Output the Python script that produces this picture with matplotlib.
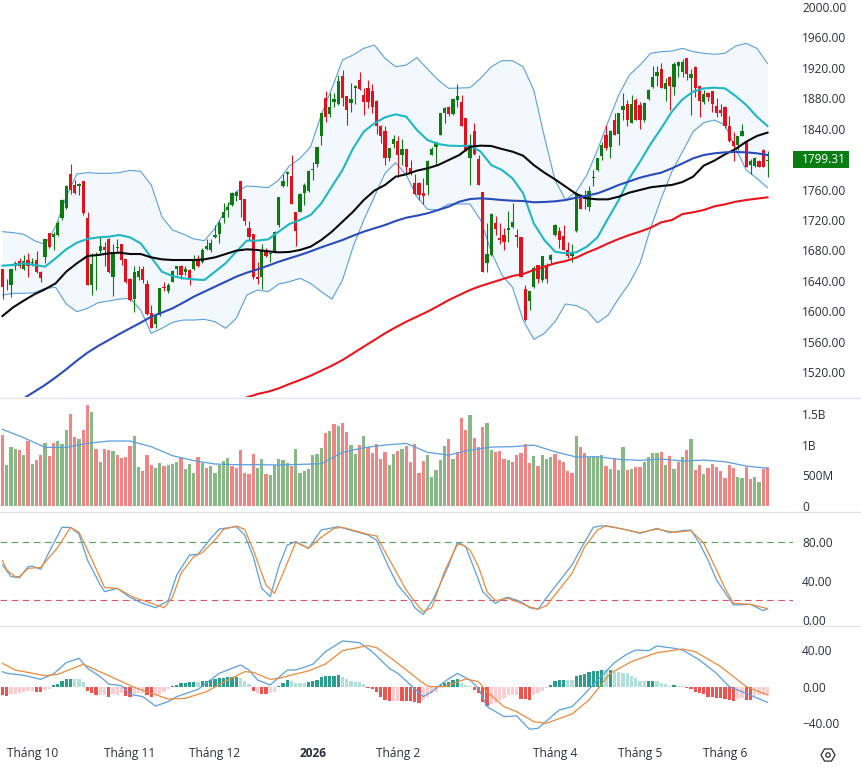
import matplotlib
matplotlib.use("Agg")
import matplotlib.pyplot as plt
from matplotlib.lines import Line2D
from matplotlib.patches import Rectangle, RegularPolygon, Circle
from matplotlib.transforms import IdentityTransform, blended_transform_factory

plt.rcParams['font.family'] = ['Open Sans', 'DejaVu Sans']

# daily candles
opens = [1656, 1634, 1634, 1660, 1666, 1656, 1667, 1664, 1667, 1651,
         1671, 1703, 1697, 1700, 1722, 1736, 1781, 1766, 1764, 1771,
         1722, 1634, 1676, 1679, 1684, 1695, 1645, 1683, 1689, 1668,
         1643, 1616, 1645, 1656, 1636, 1597, 1583, 1595, 1632, 1626,
         1639, 1656, 1659, 1651, 1654, 1655, 1669, 1665, 1682, 1681,
         1697, 1702, 1723, 1733, 1740, 1752, 1771, 1747, 1709, 1702,
         1645, 1645, 1680, 1675, 1677, 1713, 1764, 1781, 1778, 1730,
         1731, 1756, 1758, 1786, 1794, 1831, 1881, 1859, 1875, 1872,
         1909, 1883, 1874, 1893, 1904, 1884, 1894, 1890, 1877, 1844,
         1837, 1802, 1820, 1824, 1805, 1813, 1788, 1769, 1769, 1755,
         1766, 1806, 1816, 1832, 1861, 1869, 1859, 1878, 1875, 1854,
         1802, 1837, 1800, 1757, 1663, 1674, 1716, 1696, 1700, 1707,
         1711, 1700, 1697, 1629, 1613, 1632, 1661, 1641, 1661, 1667,
         1700, 1705, 1699, 1681, 1673, 1705, 1752, 1747, 1737, 1775,
         1786, 1804, 1832, 1816, 1851, 1833, 1865, 1873, 1848, 1878,
         1871, 1851, 1879, 1895, 1909, 1918, 1892, 1908, 1895, 1922,
         1915, 1933, 1906, 1921, 1896, 1875, 1887, 1889, 1870, 1864,
         1868, 1844, 1824, 1819, 1831, 1822, 1792, 1791, 1797, 1812,
         1797]
highs = [1656, 1642, 1656, 1666, 1670, 1674, 1677, 1670, 1679, 1653,
         1695, 1703, 1704, 1718, 1748, 1766, 1794, 1772, 1768, 1771,
         1730, 1676, 1678, 1697, 1691, 1696, 1688, 1695, 1689, 1669,
         1644, 1659, 1659, 1659, 1641, 1608, 1595, 1631, 1638, 1637,
         1654, 1659, 1661, 1660, 1655, 1674, 1674, 1683, 1695, 1695,
         1713, 1720, 1742, 1744, 1757, 1758, 1771, 1747, 1719, 1702,
         1665, 1688, 1683, 1677, 1705, 1750, 1781, 1784, 1805, 1731,
         1755, 1768, 1786, 1796, 1816, 1860, 1889, 1887, 1887, 1911,
         1917, 1883, 1900, 1897, 1914, 1893, 1904, 1899, 1878, 1845,
         1843, 1814, 1832, 1830, 1826, 1813, 1799, 1781, 1770, 1775,
         1799, 1816, 1823, 1860, 1868, 1870, 1880, 1899, 1884, 1854,
         1833, 1848, 1806, 1757, 1716, 1729, 1725, 1716, 1710, 1732,
         1742, 1708, 1697, 1635, 1626, 1659, 1661, 1672, 1663, 1675,
         1715, 1711, 1713, 1691, 1689, 1757, 1754, 1759, 1764, 1786,
         1802, 1823, 1845, 1838, 1860, 1860, 1887, 1878, 1884, 1880,
         1875, 1875, 1892, 1923, 1923, 1926, 1907, 1909, 1928, 1929,
         1931, 1933, 1919, 1922, 1896, 1891, 1888, 1890, 1881, 1872,
         1870, 1857, 1836, 1830, 1846, 1824, 1800, 1803, 1799, 1813,
         1810]
lows = [1616, 1628, 1619, 1654, 1657, 1654, 1645, 1659, 1650, 1638,
        1663, 1683, 1681, 1699, 1720, 1735, 1754, 1754, 1753, 1726,
        1634, 1621, 1628, 1676, 1660, 1650, 1620, 1676, 1661, 1637,
        1614, 1599, 1641, 1637, 1595, 1578, 1578, 1594, 1627, 1624,
        1638, 1648, 1643, 1648, 1634, 1654, 1658, 1664, 1681, 1678,
        1696, 1690, 1716, 1724, 1738, 1745, 1724, 1714, 1694, 1642,
        1636, 1629, 1671, 1665, 1676, 1711, 1763, 1764, 1741, 1686,
        1730, 1740, 1757, 1773, 1790, 1819, 1849, 1855, 1869, 1871,
        1870, 1845, 1862, 1873, 1891, 1858, 1867, 1860, 1833, 1821,
        1792, 1797, 1814, 1777, 1792, 1780, 1779, 1753, 1746, 1741,
        1753, 1805, 1792, 1832, 1848, 1857, 1858, 1868, 1844, 1810,
        1766, 1806, 1766, 1651, 1651, 1673, 1700, 1689, 1680, 1691,
        1710, 1685, 1645, 1587, 1602, 1630, 1637, 1639, 1637, 1662,
        1699, 1683, 1680, 1670, 1665, 1704, 1734, 1735, 1732, 1765,
        1785, 1799, 1812, 1802, 1832, 1819, 1851, 1844, 1847, 1851,
        1840, 1849, 1878, 1894, 1896, 1893, 1876, 1865, 1884, 1908,
        1908, 1904, 1858, 1882, 1856, 1873, 1876, 1862, 1856, 1857,
        1841, 1823, 1798, 1812, 1830, 1789, 1781, 1789, 1789, 1789,
        1776]
closes = [1632, 1635, 1656, 1664, 1659, 1666, 1660, 1665, 1651, 1644,
          1695, 1684, 1701, 1716, 1746, 1765, 1759, 1755, 1767, 1729,
          1634, 1662, 1677, 1686, 1680, 1651, 1678, 1684, 1667, 1638,
          1615, 1652, 1653, 1641, 1596, 1578, 1594, 1630, 1630, 1634,
          1653, 1659, 1647, 1656, 1643, 1669, 1659, 1680, 1686, 1690,
          1700, 1716, 1731, 1737, 1756, 1757, 1746, 1718, 1697, 1645,
          1643, 1680, 1672, 1677, 1704, 1750, 1771, 1783, 1741, 1705,
          1754, 1766, 1785, 1787, 1816, 1860, 1855, 1868, 1879, 1903,
          1881, 1864, 1879, 1896, 1892, 1875, 1875, 1868, 1843, 1830,
          1802, 1814, 1827, 1805, 1813, 1790, 1780, 1754, 1753, 1752,
          1797, 1813, 1823, 1860, 1867, 1859, 1879, 1883, 1844, 1810,
          1818, 1807, 1766, 1651, 1675, 1728, 1708, 1694, 1691, 1709,
          1717, 1698, 1645, 1588, 1626, 1657, 1642, 1672, 1643, 1674,
          1713, 1693, 1681, 1672, 1676, 1755, 1734, 1749, 1758, 1777,
          1801, 1819, 1814, 1837, 1832, 1860, 1870, 1851, 1873, 1851,
          1851, 1874, 1891, 1908, 1915, 1894, 1900, 1896, 1925, 1928,
          1928, 1912, 1912, 1894, 1876, 1885, 1882, 1873, 1861, 1861,
          1843, 1824, 1817, 1830, 1837, 1789, 1798, 1802, 1790, 1789,
          1799.31]

# overlays, one reading every 2.5 sessions
line_idx = [k * 2.5 for k in range(73)]
bb_upper = [1704.6, 1703.3, 1701.1, 1692.8, 1687.9, 1711.2, 1750.6, 1780.4, 1782.2, 1781.3,
            1781.3, 1782.2, 1785.2, 1783.9, 1766, 1724.3, 1706.8, 1701.5, 1695, 1692.8,
            1709, 1733.1, 1757.2, 1764.6, 1763.8,
            1762.4, 1772.5, 1791, 1801, 1816.3, 1858, 1893, 1930.3, 1936.9, 1945.6,
            1950, 1932.5, 1921.5, 1923.7, 1933.4, 1918.5, 1904, 1893, 1893.5, 1893.9,
            1906.2, 1921.5, 1929.4, 1929.4,
            1921.5, 1890.9, 1829.5, 1772.5, 1746.2, 1757.2, 1779.1, 1812, 1849.2, 1884.3,
            1910.6, 1923.7, 1939.1, 1941.3, 1942.1, 1945.6, 1941.3, 1939.1, 1937.8, 1939.1,
            1948.7, 1952.2, 1945.6, 1925.9]
bb_mid = [1659.9, 1660.8, 1663, 1660.8, 1658.6, 1669.5, 1681.4, 1690.1, 1695, 1697.1,
          1698, 1700.2, 1697.1, 1689.2, 1670.8, 1652, 1646.3, 1643.2, 1641.9, 1641,
          1652, 1663, 1678.3, 1692.8, 1692.8,
          1694.5, 1704.6, 1714.7, 1719.9, 1726.5, 1741.8, 1763.8, 1785.7, 1814.2, 1836.1,
          1847, 1854.9, 1858.9, 1855.8, 1838.3, 1825.1, 1819.9, 1817.7, 1817.2, 1817.7,
          1809.8, 1792.2, 1785.7, 1774.7,
          1755, 1715.5, 1693.6, 1678.3, 1676.1, 1677.4, 1684.9, 1697.1, 1722.1, 1746.2,
          1774.7, 1796.6, 1819.9, 1840.5, 1862.4, 1878.6, 1888.7, 1893, 1893.9, 1893,
          1883, 1871.1, 1855.8, 1843.5]
bb_lower = [1621.3, 1623.5, 1623.5, 1624.4, 1630.1, 1631.4, 1609.5, 1599.4, 1603.8, 1611.2,
            1613.4, 1616, 1616.9, 1601.6, 1570.9, 1577.5, 1585.4, 1588.4, 1588.4, 1589.3,
            1586.2, 1577.5, 1590.6, 1621.3, 1627.9,
            1625.7, 1635.8, 1638.8, 1643.2, 1636.6, 1625.7, 1616, 1641, 1684.9, 1719.9,
            1750.6, 1781.3, 1795.3, 1779.1, 1750.6, 1733.9, 1733.1, 1741, 1741, 1741,
            1719.9, 1678.3, 1647.6, 1631.4,
            1588.4, 1563, 1570.9, 1586.2, 1609.5, 1607.3, 1600.7, 1584.9, 1595, 1616.9,
            1636.6, 1663, 1709, 1748.4, 1783.5, 1809.8, 1836.1, 1847.9, 1851.4, 1844.8,
            1814.2, 1785.7, 1774.7, 1762.4]
ma_black = [1593.7, 1605.1, 1613.9, 1622.2, 1628.8, 1636.6, 1652, 1663, 1672.6, 1673.9,
            1676.1, 1677, 1675.2, 1675.2, 1670.8, 1668.2, 1667.3, 1667.3, 1667.3, 1668.2,
            1670.8, 1675.2, 1679.6, 1681.4, 1680.5,
            1678.7, 1677.4, 1677.9, 1680.5, 1684.9, 1693.6, 1704.6, 1717.7, 1730.9, 1746.2,
            1758.5, 1766, 1776.9, 1780, 1784.8, 1787.9, 1792.2, 1798.8, 1805.4, 1816.3,
            1817.7, 1817.2, 1813.3, 1809.8,
            1804.5, 1792.2, 1782.2, 1773.4, 1763.8, 1754.1, 1748.4, 1747.1, 1747.1, 1750.6,
            1755.9, 1759.4, 1762.9, 1764.6, 1766, 1769.9, 1776.9, 1791.4, 1798, 1806.3,
            1813.3, 1822.9, 1830.4, 1834.8]
ma_blue = [1467.9, 1476.7, 1485.4, 1494.2, 1503, 1513, 1523.6, 1535, 1545.5, 1554.3,
           1562.1, 1570, 1577.5, 1584.9, 1592.8, 1598.1, 1603.8, 1611.2, 1619.1, 1625.7,
           1632.3, 1638.8, 1645.4, 1650.7, 1655,
           1659.9, 1665.1, 1669.5, 1673.9, 1678.7, 1684, 1688.8, 1693.6, 1699.3, 1704.6,
           1709, 1713.3, 1718.6, 1723, 1725.6, 1728.7, 1733.1, 1737.5, 1744, 1747.5,
           1748.4, 1747.5, 1746.2, 1745.3,
           1744.9, 1743.2, 1743.6, 1744.5, 1746.2, 1749.3, 1751.9, 1755, 1760.2, 1766,
           1770.8, 1775.6, 1779.1, 1782.2, 1787.9, 1794.4, 1801, 1805.4, 1807.6, 1808.9,
           1809.3, 1808.9, 1807.6, 1805.4]
ma_red_idx = [55 + k * 2.5 for k in range(51)]
ma_red = [1481, 1486.7, 1491.1,
          1494.2, 1498.6, 1504.3, 1509.5, 1515.2, 1521.8, 1528.4, 1535.8, 1544.6, 1553.4,
          1562.1, 1570.9, 1578.8, 1586.2, 1592.8, 1599.4, 1606.8, 1614.7, 1621.3, 1627.9,
          1633.1, 1637.5, 1641.9, 1646.3,
          1648.9, 1654.2, 1658.6, 1663, 1666, 1670.4, 1677, 1682.7, 1689.2, 1695,
          1700.2, 1704.6, 1709.8, 1716.9, 1719.9, 1727.8, 1730, 1733.1, 1737.9, 1740.5,
          1744, 1746.2, 1748, 1749.7]

# volume in millions
volumes = [1163, 672, 966, 934, 917, 835, 1065, 688, 753, 835,
           1032, 819, 1032, 1065, 1016, 1245, 1507, 1130, 1097, 1245,
           1654, 1540, 934, 721, 934, 917, 901, 835, 786, 803,
           983, 1147, 639, 573, 835, 672, 622, 704, 655, 672,
           688, 721, 786, 606, 688, 541, 803, 704, 622, 655,
           541, 672, 737, 786, 655, 622, 917, 541, 524, 852,
           622, 770, 524, 508, 672, 770, 753, 704, 655, 934,
           541, 573, 606, 835, 852, 950, 1196, 1229, 1343, 1310,
           1360, 1212, 999, 852, 999, 1147, 966, 868, 1016, 770,
           885, 672, 852, 901, 934, 983, 721, 1016, 541, 737, 835,
           475, 590, 753, 983, 1097, 770, 885, 1441, 1245, 1491,
           1114, 966, 1294, 1360, 917, 885, 901, 770, 753, 721,
           835, 868, 1016, 704, 819, 655, 835, 770, 803, 852,
           753, 721, 573, 541, 1147, 966, 868, 803, 803, 803,
           835, 655, 606, 786, 590, 966, 590, 606, 639, 639,
           721, 803, 868, 868, 885, 672, 819, 606, 721, 803,
           917, 1097, 590, 672, 524, 622, 688, 639, 573, 459,
           672, 622, 475, 459, 639, 442, 475, 393, 606, 639]
vol_dirs = ("rgggrgrgrr" "grrgggrrgr" "rgrgrrgrrr" "rggrrrggrg" "ggrgggrgrg"
            "ggggrrrrrr" "ggrgggggrg" "ggggggrgrg" "rrggrgrrrr" "rggrgrrrrr"
            "g"
            "ggggrgrrrg" "rrrggrrrgr" "rrrrgrgggr" "rrrrgrrggg" "grgrggrgrr"
            "ggggrgrgrg" "rgrrgrrrrr" "rrggrrggrr")
vol_ma_idx = list(range(0, 181, 5))
vol_ma = [1256, 1119, 961, 961, 1026, 1065, 1065, 972, 824, 743, 688, 677, 677, 672, 682, 693, 879, 955, 999, 1026, 879,
          835, 917, 966, 972, 999, 890, 803, 808, 764, 748, 770, 737, 753, 726, 655, 617]

# stochastic
stoch_k_idx = [0, 2, 4, 6, 7, 9, 11, 14, 16, 18, 20, 23, 24, 27, 30, 33, 36, 39, 41, 44, 46, 49, 51, 55, 57, 59, 61,
               63, 65, 67, 69, 72, 75, 79, 86, 88, 91, 93, 96, 97, 99, 101, 102, 105, 107, 109, 112, 113, 115, 116,
               118, 119, 122, 124, 126, 128, 134, 136, 139, 141, 144, 147, 150, 154, 157, 160, 162, 164, 166, 168,
               172, 176, 179, 180]
stoch_k = [56.6, 44.5, 43.4, 54.8, 55.5, 52.1, 70.3, 95.5, 95.5, 88.6, 61.7, 35.9, 29, 32.4, 23.1, 16.9, 12.4, 19.7,
           46.2, 66.9, 67.6, 84.1, 93.8, 96.2, 87.6, 65.2, 32.4, 23.8, 54.8, 77.2, 80.7, 73.8, 92.8, 96.2, 87.6, 82.4,
           53.1, 35.9, 20.3, 12.4, 5.5, 18.6, 27.2, 56.6, 79.7, 75.5, 41, 29, 20.3, 16.9, 22.1, 23.1, 18.6, 12.4, 10.7,
           22.8, 56.6, 72.8, 95.5, 97.2, 95.5, 92.8, 89.3, 94.5, 90, 92.1, 92.8, 79, 61.7, 41, 15.2, 15.9, 9.3, 11.4]
stoch_d_idx = [0, 1, 3, 4, 6, 9, 13, 16, 18, 20, 24, 27, 31, 34, 38, 40, 42, 45, 47, 50, 52, 55, 57, 59, 62, 64, 66,
               69, 72, 75, 78, 80, 86, 88, 90, 95, 97, 99, 101, 104, 106, 107, 108, 110, 112, 114, 116, 119, 124, 126,
               128, 134, 137, 140, 142, 145, 150, 154, 158, 162, 165, 168, 170, 172, 176, 180]
stoch_d = [61, 51.4, 44.5, 44.5, 53.1, 54.1, 74.8, 95.5, 90.3, 72.1, 33.4, 32.4, 22.8, 18.6, 12.4, 23.1, 47.9, 65.2,
           69.3, 82.4, 93.4, 96.9, 93.4, 72.1, 35.9, 27.2, 47.9, 80, 73.8, 85.2, 94.5, 95.5, 88.3, 86.6, 70.3, 30.7,
           18.6, 8.3, 12.4, 49.7, 68.6, 77.2, 78.3, 72.1, 54.8, 29, 19.7, 22.1, 13.4, 11, 14.5, 47.9, 75.5, 92.8, 97.2,
           94.5, 90, 93.8, 90.3, 92.1, 79, 51.4, 32.4, 16.9, 15.9, 11.4]

# macd
macd_idx = [0, 1, 5, 9, 12, 15, 18, 20, 23, 25, 28, 30, 33, 36, 39, 41, 46, 51, 56, 58, 60, 63, 67, 69, 73, 76, 80,
            84, 87, 91, 93, 96, 99, 101, 104, 107, 110, 112, 114, 118, 121, 124, 126, 131, 134, 136, 140, 144, 147,
            149, 152, 154, 158, 160, 164, 168, 171, 174, 180]
macd_line = [16.4, 14.6, 12.4, 8, 13.9, 26.3, 31, 20.1, 10.9, 2.9, 1.1, -8.4, -10.9, -21.2, -16.4, -10.9, -2.9, 14.6,
             23.7, 18.2, 7.3, 1.8, 18.2, 18.2, 24.5, 38.3, 50, 48.2, 38.3, 20.1, 14.6, 1.8, -10.9, -5.5, 5.5, 14.6,
             7.3, -1.8, -21.9, -32.8, -32.1, -46.7, -45.6, -25.5, -21.9, -12.8, 7.3, 26.3, 35.8, 40.1, 39.4, 44.5,
             42, 40.1, 29.2, 14.6, 0, -5.5, -17.2]
signal_idx = [0, 3, 10, 13, 19, 25, 31, 35, 39, 43, 48, 53, 57, 59, 63, 65, 68, 72, 76, 80, 86, 88, 92, 98, 100, 101,
              104, 109, 112, 114, 118, 121, 125, 128, 134, 138, 143, 148, 154, 160, 163, 169, 175, 180]
signal_line = [25.5, 18.2, 12, 13.5, 24.5, 12, -0.7, -7.3, -13.5, -12.8, -5.5, 7.3, 16.4, 15.7, 8, 9.1, 12.8, 17.2,
               24.8, 39.4, 44.9, 42.7, 29.2, 7.3, 0.7, 0, 0, 8.4, 5.5, -5.5, -21.9, -27.4, -38.3, -40.1, -29.9, -14.6,
               14.6, 27.4, 37.2, 41.2, 38.3, 21.9, 0, -9.1]
macd_hist = [-9.1, -9.9, -8.4, -7.7, -6.9, -5.8, -5.1, -5.1, -5.8, -5.8,
             -3.6, -2.6, 1.5, 3.3, 6.2, 8.4, 8.4, 8.4, 8.4, 4.7,
             -4.4, -7.3, -8.8, -9.1, -9.1, -10.9, -8.4, -9.1, -7.3, -9.9,
             -11.7, -8, -7.3, -7.3, -9.1, -11.7, -9.1, -9.1, -5.5, -2.6,
             0.7, 2.2, 3.6, 4.4, 4.7, 4.7, 5.5, 6.6, 6.6, 7.3,
             8, 9.1, 9.9, 10.6, 10.6, 10.9, 9.1, 6.2, 2.9, -4.7,
             -7.3, -8, -8, -7.3, -6.2, 1.1, 3.6, 7.3, 6.2, 4,
             4, 4, 5.1, 6.2, 7.3, 10.9, 11.7, 11.7, 11.7, 12.8,
             10.2, 8, 6.6, 5.5, 4.7, 2.9, -1.1, -2.6, -5.5, -10.9,
             -14.6, -15.3, -15.3, -15.3, -15.3, -15.3, -15.3, -16.4, -17.5, -14.6, -10.9,
             -8.4, -5.5, 1.8, 4, 5.5, 7.3, 8.4, 3.6, 1.8,
             0.7, -3.6, -7.3, -16.4, -21.2, -19, -17.5, -14.6, -12.8, -9.1,
             -9.1, -9.1, -13.9, -13.9, -14.6, -9.1, -6.6, -4.7, -1.8, 1.8,
             5.8, 7.3, 7.3, 7.3, 7.3, 12, 12.8, 14.2, 15.7, 16.8,
             17.5, 18.2, 18.2, 18.2, 16.4, 16.4, 15.3, 14.6, 12, 9.5,
             6.6, 6.2, 5.8, 6.6, 6.2, 4.4, 2.9, 0.7, 1.8, 0.7,
             0.7, -1.8, -2.9, -5.5, -7.3, -8.4, -10.9, -11.7, -12.8, -12.8,
             -13.9, -14.6, -15.3, -13.9, -12, -14.6, -14.6, -10.2, -9.5, -9.5, -9.5]
# d = strong colour, l = faded colour
hist_shade = ("ddlllllldd" "lldddddlll" "dddlldllld" "dlllddllll" "ddddddlddd"
              "ddddddllld" "lddlldddll" "lldddddddd" "lllllldddd" "ddlldddddll"
              "lldddddll" "lddddlllll" "lldddlllld" "dddllddddd" "ddldllllll"
              "llddlllldl" "lddddddddd" "dddllddllll")

# time axis
month_pos = [7, 30, 50, 73, 93, 130, 150, 170]
month_labels = ["Tháng 10", "Tháng 11", "Tháng 12", "2026", "Tháng 2", "Tháng 4", "Tháng 5", "Tháng 6"]
price_ticks = [1520, 1560, 1600, 1640, 1680, 1720, 1760, 1840, 1880, 1920, 1960, 2000]
vol_ticks = [0, 500, 1000, 1500]
vol_tick_labels = ["0", "500M", "1B", "1.5B"]
stoch_ticks = [0, 40, 80]
macd_ticks = [-40, 0, 40]

W, H = 861, 767
RIGHT = 793
n = len(closes)
xs = list(range(n))
xlim = ((0 - 2.5) / 4.25, (RIGHT - 2.5) / 4.25)

fig = plt.figure(figsize=(W / 100, H / 100), dpi=100, facecolor='white')


def pane(top, bottom, ymin, ymax):
    ax = fig.add_axes([0, 1 - bottom / H, RIGHT / W, (bottom - top) / H])
    ax.set_xlim(*xlim)
    ax.set_ylim(ymin, ymax)
    for s in ax.spines.values():
        s.set_visible(False)
    ax.yaxis.tick_right()
    ax.tick_params(axis='y', length=0, pad=6.5, labelsize=8.6, labelcolor='#2a2e39')
    ax.tick_params(axis='x', length=0)
    ax.set_xticks([])
    return ax


ax1 = pane(0, 397, 1487.2, 2009.2)
ax2 = pane(398, 511, -82, 1770)
ax3 = pane(512, 625, -5.5, 111.4)
ax4 = pane(626, 739, -57.3, 66.4)

RED = '#e0101c'
GREEN = '#0f7a12'
BAND = '#5b9fdc'

# price pane
ax1.fill_between(line_idx, bb_lower, bb_upper, color='#f2f8fd', lw=0, zorder=1)
ax1.plot(line_idx, bb_upper, color=BAND, lw=0.8, zorder=2)
ax1.plot(line_idx, bb_lower, color=BAND, lw=0.8, zorder=2)
candle_colors = [GREEN if c >= o else RED for o, c in zip(opens, closes)]
ax1.vlines(xs, lows, highs, colors=candle_colors, lw=0.8, zorder=3)
ax1.bar(xs, [abs(c - o) for o, c in zip(opens, closes)], bottom=[min(o, c) for o, c in zip(opens, closes)],
        width=0.72, color=candle_colors, lw=0, zorder=4)
ax1.plot(line_idx, bb_mid, color='#1fb6c6', lw=1.5, zorder=5)
ax1.plot(line_idx, ma_black, color='#0a0a0a', lw=1.5, zorder=5)
ax1.plot(line_idx, ma_blue, color='#2a4bb8', lw=1.5, zorder=5)
ax1.plot(ma_red_idx, ma_red, color='#e8161c', lw=1.5, zorder=5)
ax1.set_yticks(price_ticks, [f"{t:.2f}" for t in price_ticks])

# last price tag
trans = blended_transform_factory(ax1.transAxes, ax1.transData)
ax1.add_patch(Rectangle((1.0, closes[-1] - 11), 56 / RIGHT, 22, transform=trans, color='#0a7d12', lw=0,
                        clip_on=False, zorder=6))
ax1.text(1 + 9 / RIGHT, closes[-1], f"{closes[-1]:.2f}", transform=trans, color='white', fontsize=8.6,
         va='center', ha='left', zorder=7)

# volume pane
ax2.bar(xs, volumes, width=0.72, color=['#86b986' if d == 'g' else '#f08585' for d in vol_dirs], lw=0)
ax2.plot(vol_ma_idx, vol_ma, color=BAND, lw=0.9)
ax2.set_yticks(vol_ticks, vol_tick_labels)

# stochastic pane
ax3.axhline(80, color='#5aa05a', lw=0.8, ls=(0, (6, 4)))
ax3.axhline(20, color='#d9596c', lw=0.8, ls=(0, (6, 4)))
ax3.plot(stoch_k_idx, stoch_k, color=BAND, lw=0.9)
ax3.plot(stoch_d_idx, stoch_d, color='#e88b3e', lw=0.9)
ax3.set_yticks(stoch_ticks, [f"{t:.2f}" for t in stoch_ticks])

# macd pane
hist_colors = []
for v, s in zip(macd_hist, hist_shade):
    if v >= 0:
        hist_colors.append('#2a9d8c' if s == 'd' else '#b2dfd8')
    else:
        hist_colors.append('#ef5350' if s == 'd' else '#fbccd0')
ax4.bar(xs, macd_hist, width=0.72, color=hist_colors, lw=0)
ax4.plot(macd_idx, macd_line, color=BAND, lw=0.9)
ax4.plot(signal_idx, signal_line, color='#e88b3e', lw=0.9)
ax4.set_yticks(macd_ticks, ["\u221240.00", "0.00", "40.00"])
ax4.set_xticks(month_pos, month_labels)
ax4.tick_params(axis='x', pad=6, labelsize=8.6, labelcolor='#2a2e39')
for lab in ax4.get_xticklabels():
    if lab.get_text() == "2026":
        lab.set_fontweight('bold')

# pane separators
for y in (397.5, 511.5, 625.5):
    fig.add_artist(Line2D([0, 1], [1 - y / H, 1 - y / H], color='#e0e3eb', lw=0.9))

# settings button
fig.add_artist(RegularPolygon((828, H - 755), 6, radius=7, orientation=0.5236, fill=False, ec='#2a2e39', lw=0.9,
                              transform=IdentityTransform()))
fig.add_artist(Circle((828, H - 755), 2.2, fill=False, ec='#2a2e39', lw=0.9, transform=IdentityTransform()))

fig.savefig("out.png", dpi=100)
